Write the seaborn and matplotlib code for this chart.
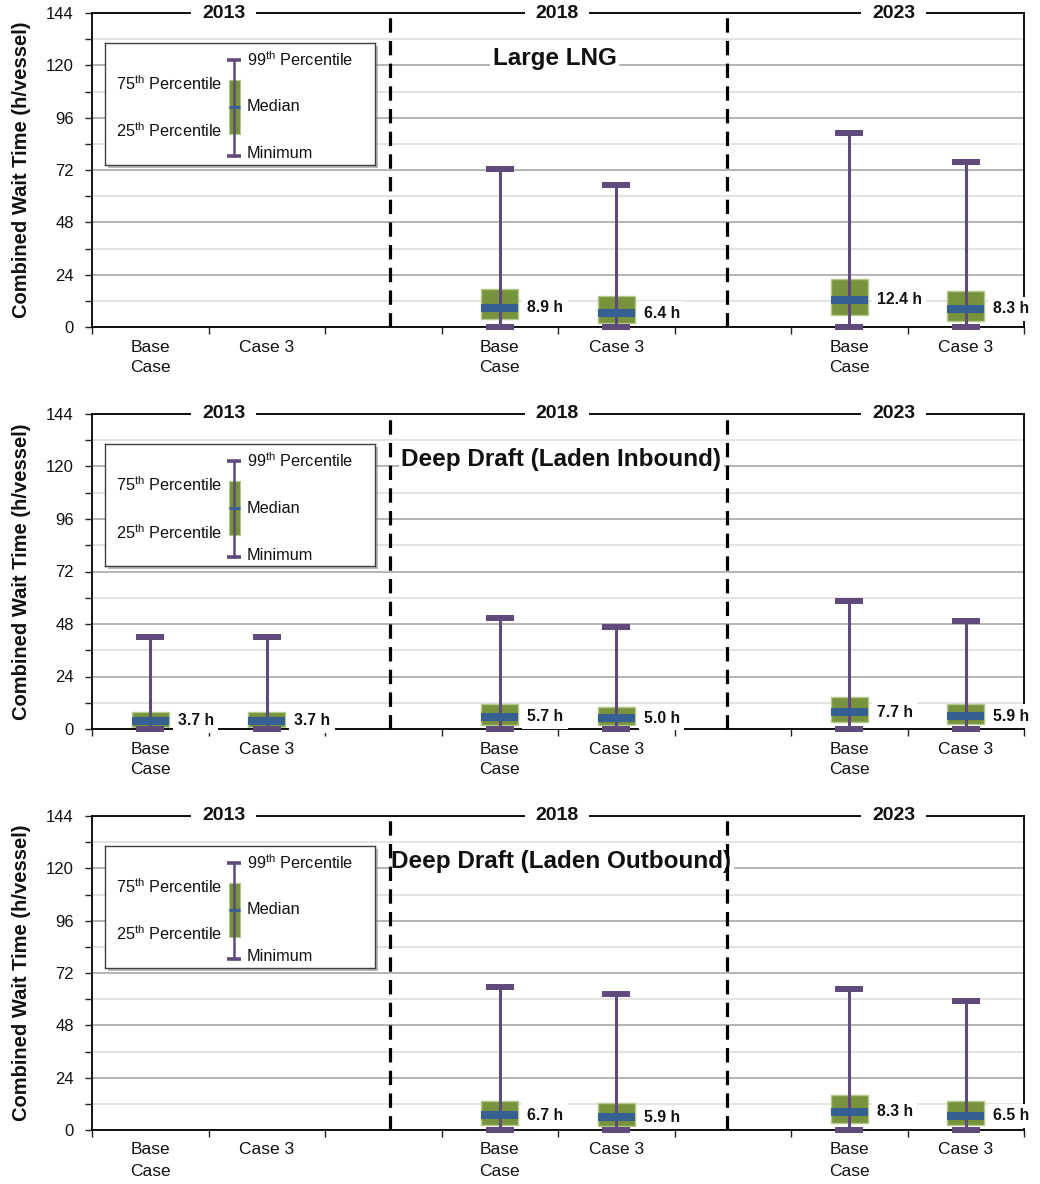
import numpy as np
import matplotlib
matplotlib.use("Agg")
import matplotlib.pyplot as plt
from matplotlib.patches import Rectangle
from matplotlib.ticker import MultipleLocator, FixedLocator
import seaborn as sns

# ---------------------------------------------------------------- data
years = ["2013", "2018", "2023"]
cases = ["Base\nCase", "Case 3"]
panel_titles = ["Large LNG", "Deep Draft (Laden Inbound)", "Deep Draft (Laden Outbound)"]

# order within each panel: 2013 Base, 2013 Case 3, 2018 Base, 2018 Case 3, 2023 Base, 2023 Case 3
nan = np.nan
lng_p99 = [nan, nan, 72.5, 65.3, 89.1, 75.8]
lng_q3 = [nan, nan, 17.3, 14.2, 22.2, 16.7]
lng_med = [nan, nan, 8.9, 6.4, 12.4, 8.3]
lng_q1 = [nan, nan, 3.5, 2.0, 5.7, 2.9]
lng_min = [nan, nan, 0.0, 0.0, 0.0, 0.0]

inb_p99 = [42.2, 42.2, 50.9, 46.8, 58.7, 49.5]
inb_q3 = [8.0, 8.0, 11.4, 10.2, 14.5, 11.4]
inb_med = [3.7, 3.7, 5.7, 5.0, 7.7, 5.9]
inb_q1 = [1.0, 1.0, 2.0, 1.7, 3.3, 2.3]
inb_min = [0.0, 0.0, 0.0, 0.0, 0.0, 0.0]

outb_p99 = [nan, nan, 65.6, 62.4, 64.8, 59.3]
outb_q3 = [nan, nan, 13.2, 12.4, 15.9, 13.2]
outb_med = [nan, nan, 6.7, 5.9, 8.3, 6.5]
outb_q1 = [nan, nan, 2.1, 1.7, 3.2, 2.4]
outb_min = [nan, nan, 0.0, 0.0, 0.0, 0.0]

panel_data = [
    (lng_min, lng_q1, lng_med, lng_q3, lng_p99),
    (inb_min, inb_q1, inb_med, inb_q3, inb_p99),
    (outb_min, outb_q1, outb_med, outb_q3, outb_p99),
]

# ---------------------------------------------------------------- style
sns.set_theme(style="white")
plt.rcParams["font.family"] = ["Liberation Sans", "DejaVu Sans"]
plt.rcParams["mathtext.fontset"] = "custom"
plt.rcParams["mathtext.rm"] = "Liberation Sans"
plt.rcParams["mathtext.it"] = "Liberation Sans:italic"
plt.rcParams["mathtext.bf"] = "Liberation Sans:bold"

GREEN = "#77933C"
GREEN_EDGE = "#B3C98A"
BLUE = "#376092"
PURPLE = "#604A7B"
TXT = "#111111"

fig = plt.figure(figsize=(10.4, 11.84), dpi=100)
W, H = 1040, 1184

# slot positions: two cases per year, one empty slot between years
positions = [yi * 3 + ci for yi in range(len(years)) for ci in range(len(cases))]
year_label_x = [0.63, 3.49, 6.38]
divider_x = [2.06, 4.95]

panel_px = [(13, 327), (414, 729), (816, 1130)]  # top/bottom in pixels
left_px, right_px = 92, 1024


def draw_key(ax):
    """Explanation box for the whisker/box glyph."""
    x0, y0, w, h = 0.0139, 0.516, 0.290, 0.389
    # drop shadow
    sh = Rectangle((x0 + 3 / 932, y0 - 3 / 314), w, h, transform=ax.transAxes,
                   facecolor="#8c8c8c", edgecolor="none", alpha=0.6, zorder=6,
                   clip_on=False)
    ax.add_patch(sh)
    key = ax.inset_axes([x0, y0, w, h])
    key.set_zorder(7)
    key.set_xlim(0, 1)
    key.set_ylim(0, 1)
    key.set_xticks([])
    key.set_yticks([])
    key.set_facecolor("white")
    for s in key.spines.values():
        s.set_color("#404040")
        s.set_linewidth(1.0)
        s.set_visible(True)
    xc = 0.478
    top, bot = 0.861, 0.074
    bq3, bq1, bmed = 0.697, 0.254, 0.475
    key.add_patch(Rectangle((xc - 0.02, bq1), 0.04, bq3 - bq1, facecolor=GREEN,
                            edgecolor=GREEN_EDGE, lw=0.8, zorder=2))
    key.plot([xc, xc], [bot, top], color=PURPLE, lw=1.8, zorder=3)
    key.plot([xc - 0.02, xc + 0.02], [bmed, bmed], color=BLUE, lw=2.2,
             solid_capstyle="butt", zorder=4)
    for yy in (top, bot):
        key.plot([xc - 0.025, xc + 0.025], [yy, yy], color=PURPLE, lw=2.6,
                 solid_capstyle="butt", zorder=4)
    fs = 11.7
    key.text(0.526, top, r"99$^{\mathrm{th}}$ Percentile", ha="left", va="center",
             fontsize=fs, color=TXT)
    key.text(0.526, bmed, "Median", ha="left", va="center", fontsize=fs, color=TXT)
    key.text(0.526, 0.09, "Minimum", ha="left", va="center", fontsize=fs, color=TXT)
    key.text(0.433, 0.664, r"75$^{\mathrm{th}}$ Percentile", ha="right", va="center",
             fontsize=fs, color=TXT)
    key.text(0.433, 0.279, r"25$^{\mathrm{th}}$ Percentile", ha="right", va="center",
             fontsize=fs, color=TXT)


for pi, (title, arrays) in enumerate(zip(panel_titles, panel_data)):
    top_px, bot_px = panel_px[pi]
    ax = fig.add_axes([left_px / W, 1 - bot_px / H,
                       (right_px - left_px) / W, (bot_px - top_px) / H])
    mins, q1s, meds, q3s, p99s = arrays

    stats, pos = [], []
    for k, p in enumerate(positions):
        if np.isnan(meds[k]):
            continue
        stats.append(dict(med=meds[k], q1=q1s[k], q3=q3s[k],
                          whislo=mins[k], whishi=p99s[k], fliers=[]))
        pos.append(p)

    if stats:
        art = ax.bxp(stats, positions=pos, widths=0.32, capwidths=0.24,
                     patch_artist=True, showfliers=False, manage_ticks=False,
                     boxprops=dict(facecolor=GREEN, edgecolor=GREEN_EDGE, linewidth=1.0),
                     medianprops=dict(color=BLUE, linewidth=5.8, solid_capstyle="butt"),
                     whiskerprops=dict(visible=False),
                     capprops=dict(color=PURPLE, linewidth=4.3, solid_capstyle="butt"))
        for b in art["boxes"]:
            b.set_zorder(2)
        for m in art["medians"]:
            m.set_zorder(4)
        for c in art["caps"]:
            c.set_zorder(4)
            c.set_clip_on(False)
        lo = [s["whislo"] for s in stats]
        hi = [s["whishi"] for s in stats]
        ax.vlines(pos, lo, hi, colors=PURPLE, linewidth=2.2, zorder=3)
        for s, p in zip(stats, pos):
            ax.text(p + 0.235, s["med"], f"{s['med']:.1f} h", ha="left", va="center",
                    fontsize=11.3, fontweight="bold", color=TXT, zorder=5, clip_on=False,
                    bbox=dict(boxstyle="square,pad=0.3", facecolor="white",
                              edgecolor="none"))

    # axes and grid
    ax.set_xlim(-0.5, 7.5)
    ax.set_ylim(0, 144)
    ax.yaxis.set_major_locator(MultipleLocator(24))
    ax.yaxis.set_minor_locator(MultipleLocator(12))
    ax.grid(which="major", axis="y", color="#a8a8a8", linewidth=1.2)
    ax.grid(which="minor", axis="y", color="#dedede", linewidth=1.2)
    ax.set_axisbelow(True)
    ax.tick_params(axis="y", which="both", direction="out", length=5, width=1,
                   color="#222222", labelsize=12, labelcolor=TXT, pad=8, left=True)
    ax.set_xticks(positions)
    ax.set_xticklabels(cases * len(years), fontsize=12.5, color=TXT, linespacing=1.5)
    ax.xaxis.set_minor_locator(FixedLocator(np.arange(-0.5, 8.0, 1.0)))
    ax.tick_params(axis="x", which="major", length=0, pad=9)
    ax.tick_params(axis="x", which="minor", direction="out", length=5, width=1,
                   color="#222222", bottom=True)
    for s in ax.spines.values():
        s.set_visible(True)
        s.set_color("black")
        s.set_linewidth(1.3)
    ax.set_facecolor("white")

    for dx in divider_x:
        ax.axvline(dx, color="black", linewidth=2.3, dashes=(4.5, 2.6), zorder=6)

    for yx, yl in zip(year_label_x, years):
        ax.text(yx, 144, yl, ha="center", va="center", fontsize=14,
                fontweight="bold", color=TXT, zorder=8, clip_on=False,
                bbox=dict(boxstyle="square,pad=0.55", facecolor="white",
                          edgecolor="none"))

    ax.text(3.47 if pi == 0 else 3.53, 123, title, ha="center", va="center",
            fontsize=17.5, fontweight="bold", color=TXT, zorder=5,
            bbox=dict(boxstyle="square,pad=0.1", facecolor="white", edgecolor="none"))

    draw_key(ax)

    fig.text(22 / W, 1 - (top_px + bot_px) / 2 / H, "Combined Wait Time (h/vessel)",
             rotation=90, ha="center", va="center", fontsize=14.5, fontweight="bold",
             color=TXT)

fig.savefig("out.png", dpi=100, facecolor="white")
